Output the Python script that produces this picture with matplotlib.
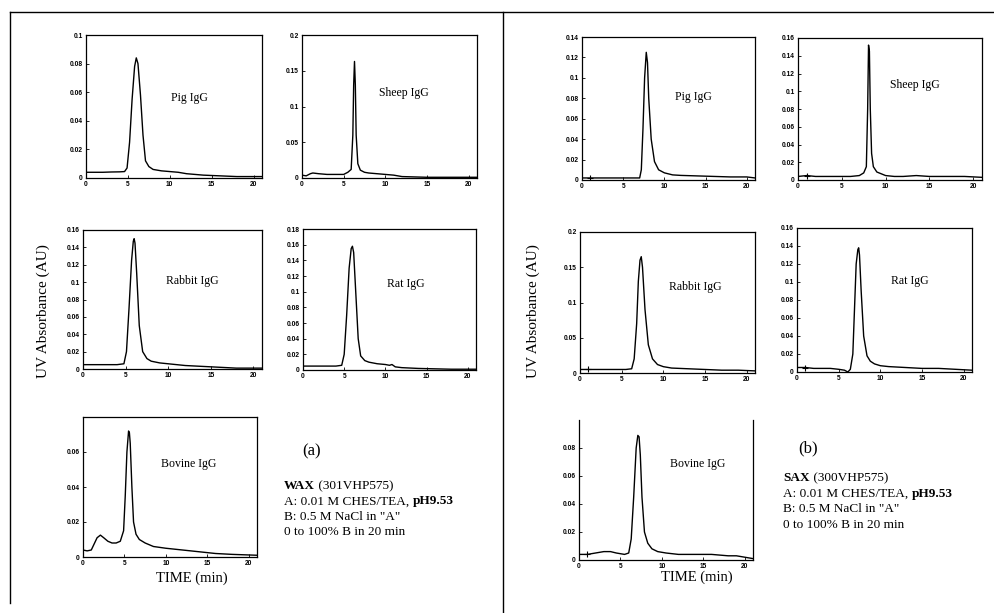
import numpy as np
import matplotlib
matplotlib.use("Agg")
import matplotlib.pyplot as plt
from matplotlib.lines import Line2D

plt.rcParams["font.family"] = "Liberation Serif"

W, H = 995, 613

# ---- chromatogram data (time in min, absorbance in AU) ----
wax_pig_t = [0, 1, 2, 3, 4, 4.6, 4.9, 5.2, 5.5, 5.8, 6.0, 6.2, 6.5, 6.8, 7.1, 7.5, 8, 9, 10, 11, 12, 14, 16, 18, 20, 21]
wax_pig_y = [0.004, 0.004, 0.004, 0.0042, 0.0043, 0.0045, 0.007, 0.025, 0.055, 0.078, 0.084, 0.08, 0.058, 0.03,
             0.012, 0.008, 0.006, 0.005, 0.0045, 0.004, 0.003, 0.002, 0.0015, 0.001, 0.001, 0.001]

wax_sheep_t = [0, 0.5, 1, 1.3, 2, 3, 4, 5, 5.5, 5.9, 6.1, 6.2, 6.3, 6.4, 6.5, 6.7, 7, 7.5, 8, 9, 10, 11, 12, 15, 18, 21]
wax_sheep_y = [0.004, 0.003, 0.006, 0.007, 0.006, 0.005, 0.005, 0.005, 0.008, 0.012, 0.06, 0.13, 0.163, 0.13, 0.06,
               0.02, 0.011, 0.008, 0.007, 0.006, 0.005, 0.004, 0.002, 0.001, 0.001, 0.001]

wax_rabbit_t = [0, 2, 4, 4.8, 5.1, 5.4, 5.7, 5.9, 6.0, 6.1, 6.3, 6.6, 7, 7.5, 8, 9, 10, 12, 14, 16, 18, 21]
wax_rabbit_y = [0.005, 0.005, 0.005, 0.006, 0.02, 0.07, 0.125, 0.147, 0.15, 0.145, 0.11, 0.05, 0.02, 0.012, 0.009,
                0.007, 0.006, 0.004, 0.003, 0.002, 0.001, 0.001]

wax_rat_t = [0, 2, 4, 4.7, 5.0, 5.3, 5.6, 5.85, 6.0, 6.15, 6.4, 6.7, 7, 7.5, 8, 9, 10, 10.5, 10.8, 11.2, 12, 14, 16, 18, 21]
wax_rat_y = [0.005, 0.005, 0.005, 0.006, 0.02, 0.07, 0.13, 0.155, 0.158, 0.15, 0.1, 0.04, 0.018, 0.012, 0.01, 0.008,
             0.007, 0.006, 0.007, 0.004, 0.003, 0.002, 0.0015, 0.001, 0.001]

wax_bovine_t = [0, 0.5, 1, 1.3, 1.7, 2.1, 2.5, 3, 3.5, 4, 4.5, 4.9, 5.1, 5.3, 5.5, 5.6, 5.7, 5.9, 6.1, 6.4, 6.8, 7.5,
                8.5, 10, 11, 12, 14, 16, 18, 21]
wax_bovine_y = [0.004, 0.0035, 0.004, 0.007, 0.011, 0.0125, 0.011, 0.009, 0.008, 0.008, 0.009, 0.015, 0.035, 0.06,
                0.072, 0.071, 0.065, 0.04, 0.02, 0.013, 0.01, 0.008, 0.006, 0.005, 0.0045, 0.004, 0.003, 0.002,
                0.0015, 0.001]

sax_pig_t = [0, 2, 4, 6, 7, 7.2, 7.4, 7.6, 7.8, 7.95, 8.1, 8.4, 8.8, 9.3, 10, 11, 12, 14, 16, 18, 20, 21]
sax_pig_y = [0.002, 0.002, 0.002, 0.002, 0.002, 0.01, 0.05, 0.1, 0.125, 0.115, 0.08, 0.04, 0.018, 0.01, 0.007,
             0.005, 0.0045, 0.004, 0.0035, 0.003, 0.003, 0.002]

sax_sheep_t = [0, 1, 2, 4, 6, 7, 7.5, 7.8, 7.95, 8.05, 8.15, 8.25, 8.4, 8.6, 9, 9.5, 10, 11, 12, 13.5, 15, 17, 19, 21]
sax_sheep_y = [0.004, 0.005, 0.004, 0.004, 0.004, 0.005, 0.008, 0.015, 0.08, 0.152, 0.145, 0.08, 0.03, 0.015,
               0.009, 0.007, 0.005, 0.004, 0.004, 0.005, 0.004, 0.004, 0.004, 0.003]

sax_rabbit_t = [0, 2, 4, 5.5, 6.2, 6.5, 6.8, 7.0, 7.2, 7.35, 7.5, 7.8, 8.2, 8.7, 9.3, 10, 11, 13, 15, 17, 19, 21]
sax_rabbit_y = [0.005, 0.005, 0.005, 0.005, 0.006, 0.02, 0.07, 0.13, 0.16, 0.165, 0.15, 0.09, 0.04, 0.02, 0.012,
                0.009, 0.007, 0.006, 0.005, 0.004, 0.004, 0.003]

sax_rat_t = [0, 1, 2, 3, 4, 5, 5.7, 6.1, 6.4, 6.7, 6.9, 7.1, 7.3, 7.4, 7.5, 7.7, 8.0, 8.4, 8.8, 9.3, 10, 11, 13, 15,
             17, 19, 21]
sax_rat_y = [0.005, 0.005, 0.004, 0.004, 0.004, 0.003, 0.002, 0.0, 0.003, 0.02, 0.07, 0.12, 0.136, 0.138, 0.13,
             0.09, 0.04, 0.018, 0.012, 0.009, 0.007, 0.006, 0.005, 0.004, 0.004, 0.003, 0.002]

sax_bovine_t = [0, 1, 2, 3, 3.8, 4.5, 5.5, 6.0, 6.3, 6.6, 6.9, 7.1, 7.25, 7.4, 7.6, 7.9, 8.3, 8.8, 9.5, 10.5, 12,
                14, 16, 18, 19, 20, 21]
sax_bovine_y = [0.004, 0.004, 0.005, 0.006, 0.006, 0.005, 0.004, 0.005, 0.015, 0.045, 0.08, 0.089, 0.088, 0.075,
                0.045, 0.02, 0.012, 0.008, 0.006, 0.005, 0.004, 0.004, 0.004, 0.003, 0.003, 0.002, 0.001]

inject_t = 1.0  # small injection mark on the SAX traces

x_ticks = [0, 5, 10, 15, 20]
ticks_02 = [0, 0.02, 0.04, 0.06, 0.08, 0.1]
ticks_05 = [0, 0.05, 0.1, 0.15, 0.2]
ticks_16 = [0, 0.02, 0.04, 0.06, 0.08, 0.1, 0.12, 0.14, 0.16]
ticks_18 = [0, 0.02, 0.04, 0.06, 0.08, 0.1, 0.12, 0.14, 0.16, 0.18]
ticks_14 = [0, 0.02, 0.04, 0.06, 0.08, 0.1, 0.12, 0.14]
ticks_bov = [0, 0.02, 0.04, 0.06]
ticks_bov2 = [0, 0.02, 0.04, 0.06, 0.08]

# method notes: each line is a list of (text, weight) pieces
wax_lines = [[("WAX", "bold"), (" (301VHP575)", "normal")],
             [("A: 0.01 M CHES/TEA, ", "normal"), ("pH9.53", "bold")],
             [('B: 0.5 M NaCl in "A"', "normal")],
             [("0 to 100% B in 20 min", "normal")]]
sax_lines = [[("SAX", "bold"), (" (300VHP575)", "normal")],
             [("A: 0.01 M CHES/TEA, ", "normal"), ("pH9.53", "bold")],
             [('B: 0.5 M NaCl in "A"', "normal")],
             [("0 to 100% B in 20 min", "normal")]]


def fmt(v):
    return "0" if v == 0 else ("%g" % v)


# name, t, y, ymax, yticks, box (left, top, right, bottom in px), label pos (px), sax?, top spine
panels = [
    ("Pig IgG", wax_pig_t, wax_pig_y, 0.1, ticks_02, (86, 35, 262, 178), (189, 98), False, True),
    ("Sheep IgG", wax_sheep_t, wax_sheep_y, 0.2, ticks_05, (302, 35, 477, 178), (404, 93), False, True),
    ("Rabbit IgG", wax_rabbit_t, wax_rabbit_y, 0.16, ticks_16, (83, 230, 262, 369), (192, 281), False, True),
    ("Rat IgG", wax_rat_t, wax_rat_y, 0.18, ticks_18, (303, 229, 476, 370), (406, 284), False, True),
    ("Bovine IgG", wax_bovine_t, wax_bovine_y, 0.08, ticks_bov, (83, 417, 257, 557), (189, 464), False, True),
    ("Pig IgG", sax_pig_t, sax_pig_y, 0.14, ticks_14, (582, 37, 755, 180), (693, 97), True, True),
    ("Sheep IgG", sax_sheep_t, sax_sheep_y, 0.16, ticks_16, (798, 38, 982, 180), (915, 85), True, True),
    ("Rabbit IgG", sax_rabbit_t, sax_rabbit_y, 0.2, ticks_05, (580, 232, 755, 373), (695, 287), True, True),
    ("Rat IgG", sax_rat_t, sax_rat_y, 0.16, ticks_16, (797, 228, 972, 372), (910, 281), True, True),
    ("Bovine IgG", sax_bovine_t, sax_bovine_y, 0.1, ticks_bov2, (579, 420, 753, 560), (698, 464), True, False),
]

fig = plt.figure(figsize=(W / 100, H / 100), dpi=100)


def fx(px):
    return px / W


def fy(py):
    return 1 - py / H


for name, t, y, ymax, yt, box, lab, sax, top in panels:
    l, tp, r, b = box
    ax = fig.add_axes([fx(l), fy(b), (r - l) / W, (b - tp) / H])
    ax.plot(t, y, color="black", lw=1.0)
    if sax:
        ax.plot([inject_t], [np.interp(inject_t, t, y)], marker="+", color="black", ms=4, mew=0.8)
    ax.set_xlim(0, 21)
    ax.set_ylim(0, ymax)
    ax.set_xticks(x_ticks)
    ax.set_xticklabels([str(v) for v in x_ticks])
    ax.set_yticks(yt)
    ax.set_yticklabels([fmt(v) for v in yt])
    ax.tick_params(direction="in", length=2, width=0.6, pad=2.5)
    for lbl in ax.get_xticklabels() + ax.get_yticklabels():
        lbl.set_fontfamily("Liberation Sans")
        lbl.set_fontweight("bold")
        lbl.set_fontsize(4.8)
    for sp in ax.spines.values():
        sp.set_linewidth(0.9)
    if not top:
        ax.spines["top"].set_visible(False)
    fig.text(fx(lab[0]), fy(lab[1]), name, ha="center", va="center", fontsize=8.5)

# axis titles
for x in (43, 533):
    fig.text(fx(x), fy(311), "UV Absorbance (AU)", rotation=90, ha="center", va="center", fontsize=11)
fig.text(fx(192), fy(578), "TIME (min)", ha="center", va="center", fontsize=10.5)
fig.text(fx(697), fy(577), "TIME (min)", ha="center", va="center", fontsize=10.5)

# method descriptions
fig.text(fx(312), fy(451), "(a)", ha="center", va="center", fontsize=12)
fig.text(fx(808), fy(448), "(b)", ha="center", va="center", fontsize=12)

renderer = fig.canvas.get_renderer()


def note(lines, x0, y0, step):
    for i, pieces in enumerate(lines):
        x = x0
        for s, wt in pieces:
            txt = fig.text(fx(x), fy(y0 + step * i), s, ha="left", va="baseline",
                           fontsize=9.5, fontweight=wt)
            x += txt.get_window_extent(renderer).width


note(wax_lines, 284, 489, 15.3)
note(sax_lines, 783, 481, 15.5)

# page frame from the scan
frame = [((10, 995), (12, 12)), ((10, 10), (12, 603)), ((503, 503), (12, 613))]
for xs, ys in frame:
    fig.add_artist(Line2D([fx(xs[0]), fx(xs[1])], [fy(ys[0]), fy(ys[1])], color="black", lw=1.0))

fig.savefig("out.png", dpi=100)
